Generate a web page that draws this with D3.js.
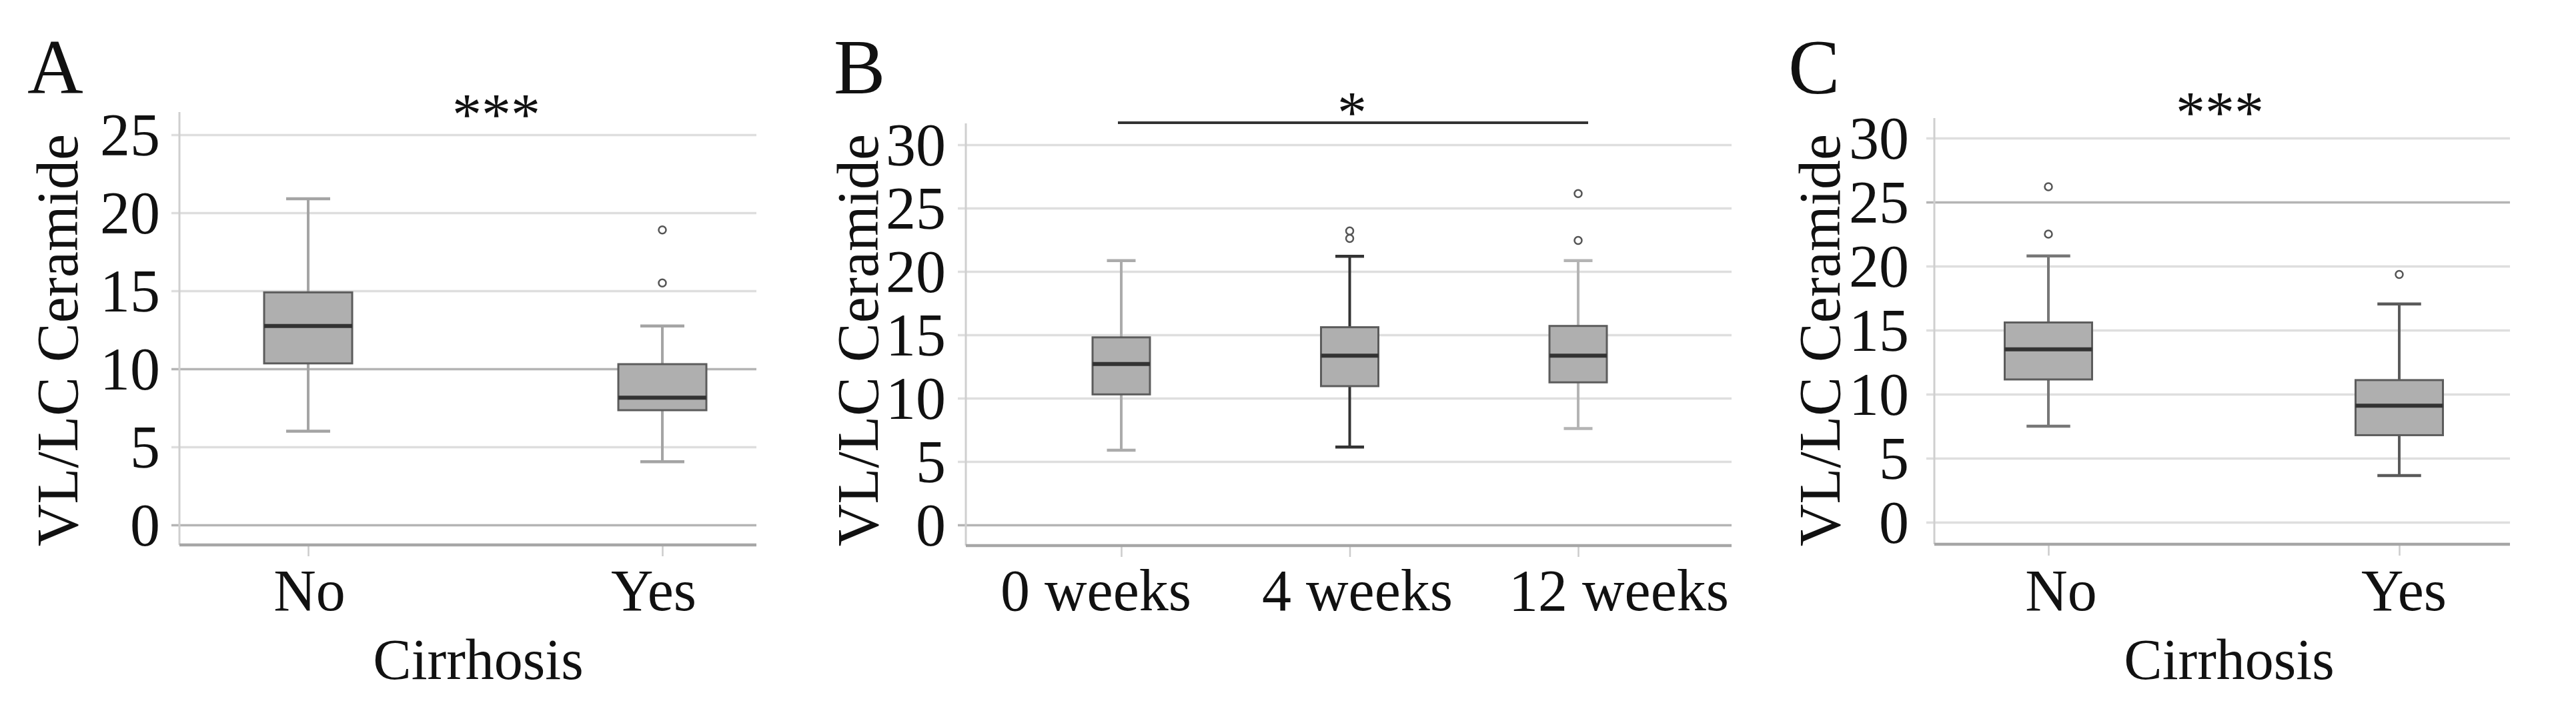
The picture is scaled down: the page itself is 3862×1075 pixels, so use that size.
<!DOCTYPE html>
<html>
<head>
<meta charset="utf-8">
<script src="https://cdn.jsdelivr.net/npm/d3@7"></script>
<style>
  body { margin: 0; background: #fff; }
  text { font-family: "Liberation Serif", "Times New Roman", serif; fill: #111; }
</style>
</head>
<body>
<svg id="chart" width="3862" height="1075"></svg>
<script>
// ---- values ----
var cirrhosisCats = ["No", "Yes"];
var weekCats = ["0 weeks", "4 weeks", "12 weeks"];
var ticksA = [0, 5, 10, 15, 20, 25];
var ticksBC = [0, 5, 10, 15, 20, 25, 30];

// panel A : by cirrhosis
var aLow  = [6.0, 4.05];
var aQ1   = [10.35, 7.35];
var aMed  = [12.75, 8.15];
var aQ3   = [14.9, 10.3];
var aHigh = [20.9, 12.75];
var aOut  = [[], [18.9, 15.5]];

// panel B : by treatment week
var bLow  = [5.9, 6.15, 7.6];
var bQ1   = [10.3, 10.95, 11.25];
var bMed  = [12.7, 13.35, 13.35];
var bQ3   = [14.8, 15.6, 15.7];
var bHigh = [20.85, 21.2, 20.85];
var bOut  = [[], [23.2, 22.6], [26.15, 22.45]];

// panel C : by cirrhosis
var cLow  = [7.5, 3.65];
var cQ1   = [11.15, 6.8];
var cMed  = [13.5, 9.1];
var cQ3   = [15.6, 11.1];
var cHigh = [20.8, 17.05];
var cOut  = [[26.2, 22.5], [19.35]];

// ---- layout (pixels) ----
var panels = [
  { letter: "A", letterX: 41, left: 269, right: 1134, top: 168, bottom: 817,
    zeroY: 787, maxY: 202, maxTick: 25, ticks: ticksA, cats: cirrhosisCats,
    catRange: [462, 993], labelRange: [464, 980], boxW: 132,
    tickLabelX: 240, titleX: 116, xTitle: "Cirrhosis", xTitleX: 717,
    sig: "***", sigX: 744, sigY: 201, sigBar: false,
    whisker: ["#a4a4a4", "#a4a4a4"], darkGrid: [10, 0],
    low: aLow, q1: aQ1, med: aMed, q3: aQ3, high: aHigh, out: aOut },
  { letter: "B", letterX: 1250, left: 1448, right: 2596, top: 185, bottom: 818,
    zeroY: 787, maxY: 217, maxTick: 30, ticks: ticksBC, cats: weekCats,
    catRange: [1681, 2366], labelRange: [1643, 2427], boxW: 86,
    tickLabelX: 1418, titleX: 1316, xTitle: null,
    sig: "*", sigX: 2027, sigY: 198, sigBar: true,
    whisker: ["#ababab", "#333333", "#b4b4b4"], darkGrid: [0],
    low: bLow, q1: bQ1, med: bMed, q3: bQ3, high: bHigh, out: bOut },
  { letter: "C", letterX: 2681, left: 2900, right: 3763, top: 177, bottom: 816,
    zeroY: 783, maxY: 207, maxTick: 30, ticks: ticksBC, cats: cirrhosisCats,
    catRange: [3071, 3597], labelRange: [3090, 3604], boxW: 131,
    tickLabelX: 2862, titleX: 2758, xTitle: "Cirrhosis", xTitleX: 3342,
    sig: "***", sigX: 3328, sigY: 198, sigBar: false,
    whisker: ["#777777", "#5a5a5a"], darkGrid: [25],
    low: cLow, q1: cQ1, med: cMed, q3: cQ3, high: cHigh, out: cOut }
];

var svg = d3.select("#chart");

panels.forEach(function(p) {
  var g = svg.append("g");

  var y = d3.scaleLinear()
    .domain([0, p.maxTick])
    .range([p.zeroY, p.maxY]);

  var x = d3.scalePoint()
    .domain(p.cats)
    .range(p.catRange);

  var xLab = d3.scalePoint()
    .domain(p.cats)
    .range(p.labelRange);

  // gridlines (start a little left of the axis, like tick stubs)
  var grid = g.append("g")
    .attr("transform", "translate(" + (p.left - 12) + ",0)")
    .call(d3.axisLeft(y).tickValues(p.ticks).tickSize(-(p.right - p.left + 12)).tickFormat(""));
  grid.select(".domain").remove();
  grid.selectAll(".tick line")
    .attr("stroke", function(d) { return p.darkGrid.indexOf(d) >= 0 ? "#b4b4b4" : "#dedede"; })
    .attr("stroke-width", 3.5);

  // y tick labels
  var yLabels = g.append("g")
    .attr("transform", "translate(" + p.tickLabelX + ",0)")
    .call(d3.axisLeft(y).tickValues(p.ticks).tickSize(0).tickPadding(0));
  yLabels.select(".domain").remove();
  yLabels.selectAll("text")
    .attr("font-size", 90)
    .attr("font-family", "Liberation Serif")
    .attr("fill", "#111")
    .attr("dy", "0.34em");

  // y axis line
  g.append("line")
    .attr("x1", p.left).attr("x2", p.left)
    .attr("y1", p.top).attr("y2", p.bottom)
    .attr("stroke", "#cfcfcf")
    .attr("stroke-width", 3);

  // x axis line + ticks
  var xAxis = g.append("g")
    .attr("transform", "translate(0," + p.bottom + ")")
    .call(d3.axisBottom(x).tickSize(17).tickFormat(""));
  xAxis.select(".domain").remove();
  xAxis.selectAll(".tick line").attr("stroke", "#cccccc").attr("stroke-width", 2.5);

  g.append("line")
    .attr("x1", p.left).attr("x2", p.right)
    .attr("y1", p.bottom).attr("y2", p.bottom)
    .attr("stroke", "#a6a6a6")
    .attr("stroke-width", 4.5);

  // boxes
  p.cats.forEach(function(c, i) {
    var cx = x(c), hw = p.boxW / 2, cap = p.boxW / 4;
    var wc = p.whisker[i];

    g.append("line")
      .attr("x1", cx).attr("x2", cx)
      .attr("y1", y(p.high[i])).attr("y2", y(p.q3[i]))
      .attr("stroke", wc).attr("stroke-width", 4);
    g.append("line")
      .attr("x1", cx).attr("x2", cx)
      .attr("y1", y(p.q1[i])).attr("y2", y(p.low[i]))
      .attr("stroke", wc).attr("stroke-width", 4);
    [p.high[i], p.low[i]].forEach(function(v) {
      g.append("line")
        .attr("x1", cx - cap).attr("x2", cx + cap)
        .attr("y1", y(v)).attr("y2", y(v))
        .attr("stroke", wc).attr("stroke-width", 4.5);
    });

    g.append("rect")
      .attr("x", cx - hw)
      .attr("y", y(p.q3[i]))
      .attr("width", p.boxW)
      .attr("height", y(p.q1[i]) - y(p.q3[i]))
      .attr("fill", "#afafaf")
      .attr("stroke", "#5c5c5c")
      .attr("stroke-width", 3);

    g.append("line")
      .attr("x1", cx - hw).attr("x2", cx + hw)
      .attr("y1", y(p.med[i])).attr("y2", y(p.med[i]))
      .attr("stroke", "#333")
      .attr("stroke-width", 6);

    g.selectAll(null)
      .data(p.out[i])
      .enter()
      .append("circle")
      .attr("cx", cx)
      .attr("cy", function(d) { return y(d); })
      .attr("r", 5.5)
      .attr("fill", "#fff")
      .attr("stroke", "#555")
      .attr("stroke-width", 2.5);

    // category label
    g.append("text")
      .attr("x", xLab(c))
      .attr("y", 915)
      .attr("text-anchor", "middle")
      .attr("font-size", 88)
      .text(c);
  });

  // axis titles
  g.append("text")
    .attr("transform", "translate(" + p.titleX + ",510) rotate(-90)")
    .attr("text-anchor", "middle")
    .attr("font-size", 88)
    .text("VL/LC Ceramide");

  if (p.xTitle) {
    g.append("text")
      .attr("x", p.xTitleX)
      .attr("y", 1018)
      .attr("text-anchor", "middle")
      .attr("font-size", 86)
      .text(p.xTitle);
  }

  // panel letter
  g.append("text")
    .attr("x", p.letterX)
    .attr("y", 140)
    .attr("font-size", 116)
    .text(p.letter);

  // significance
  if (p.sigBar) {
    g.append("line")
      .attr("x1", x(p.cats[0]) - 5)
      .attr("x2", x(p.cats[p.cats.length - 1]) + 15)
      .attr("y1", 184).attr("y2", 184)
      .attr("stroke", "#333")
      .attr("stroke-width", 4);
  }
  g.append("text")
    .attr("x", p.sigX)
    .attr("y", p.sigY)
    .attr("text-anchor", "middle")
    .attr("font-size", 88)
    .text(p.sig);
});
</script>
</body>
</html>
